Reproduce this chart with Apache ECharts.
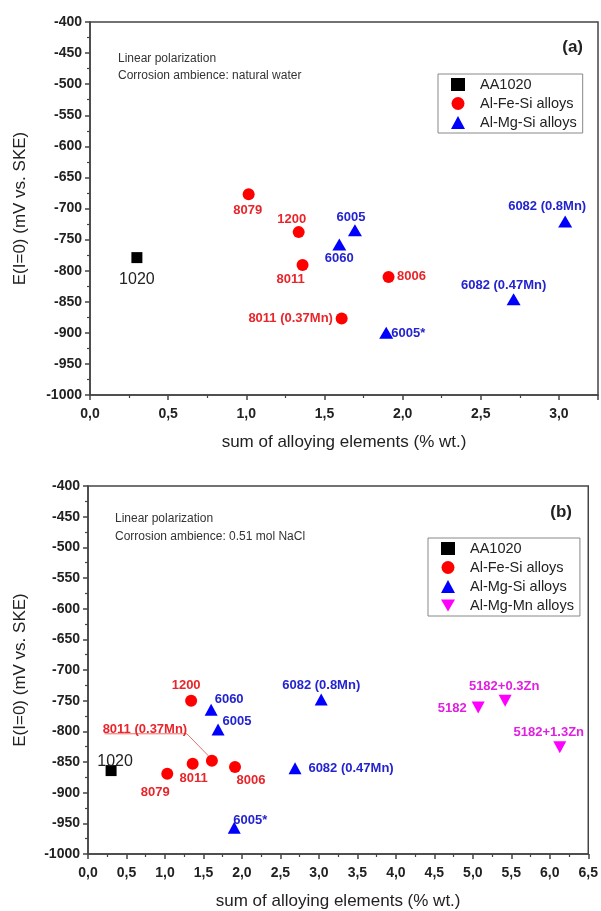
<!DOCTYPE html>
<html><head><meta charset="utf-8">
<script src="https://cdn.jsdelivr.net/npm/echarts@6/dist/echarts.min.js"></script>
<style>html,body{margin:0;padding:0;background:#fff}#c{width:601px;height:911px}</style>
</head><body><div id="c"></div>
<script>
// ---------- DATA: panel (a) natural water ----------
const aAA1020Names = ['1020'];
const aAA1020X = [0.30];
const aAA1020Y = [-779];

const aFeSiNames = ['8079', '1200', '8011', '8006', '8011 (0.37Mn)'];
const aFeSiX = [1.015, 1.335, 1.36, 1.91, 1.61];
const aFeSiY = [-677, -738, -791, -810, -877];

const aMgSiNames = ['6005', '6060', '6082 (0.8Mn)', '6082 (0.47Mn)', '6005*'];
const aMgSiX = [1.695, 1.595, 3.04, 2.71, 1.895];
const aMgSiY = [-735, -758, -721, -846, -900];

// ---------- DATA: panel (b) 0.51 mol NaCl ----------
const bAA1020Names = ['1020'];
const bAA1020X = [0.30];
const bAA1020Y = [-864];

const bFeSiNames = ['8079', '1200', '8011', '8011 (0.37Mn)', '8006'];
const bFeSiX = [1.03, 1.34, 1.36, 1.61, 1.91];
const bFeSiY = [-869, -750, -853, -848, -858];

const bMgSiNames = ['6060', '6005', '6005*', '6082 (0.47Mn)', '6082 (0.8Mn)'];
const bMgSiX = [1.60, 1.69, 1.90, 2.69, 3.03];
const bMgSiY = [-765, -797, -957, -860, -748];

const bMgMnNames = ['5182', '5182+0.3Zn', '5182+1.3Zn'];
const bMgMnX = [5.07, 5.42, 6.13];
const bMgMnY = [-761, -750, -826];

// leader line for "8011 (0.37Mn)" label in panel (b) (underline + pointer)
const bLeaderX = [0.215, 1.285, 1.565];
const bLeaderY = [-804, -804, -840];

const legendA = ['AA1020', 'Al-Fe-Si alloys', 'Al-Mg-Si alloys'];
const legendB = ['AA1020', 'Al-Fe-Si alloys', 'Al-Mg-Si alloys', 'Al-Mg-Mn alloys'];

const yTitle = 'E(I=0) (mV vs. SKE)';
const xTitle = 'sum of alloying elements (% wt.)';

// ---------- LAYOUT (label offsets, px) ----------
const placeA = {
  '1020': [0, 22], '8079': [-1, 16], '1200': [-7, -13], '8011': [-12, 14], '8006': [23, 0],
  '8011 (0.37Mn)': [-51, 0], '6005': [-4, -13], '6060': [0, 14], '6082 (0.8Mn)': [-18, -15],
  '6082 (0.47Mn)': [-10, -14], '6005*': [22, 1]
};
const placeB = {
  '1020': [4, -9], '8079': [-12, 19], '1200': [-5, -15], '8011': [1, 15], '8006': [16, 14],
  '8011 (0.37Mn)': [-67, -31], '6060': [18, -10], '6005': [19, -8], '6005*': [16, -7],
  '6082 (0.47Mn)': [56, 0], '6082 (0.8Mn)': [0, -14], '5182': [-26, 1],
  '5182+0.3Zn': [-1, -14], '5182+1.3Zn': [-11, -15]
};

const FF = '"Liberation Sans", Arial, sans-serif';
const AX = '#444';
const DOWN_TRI = 'path://M0,0L10,0L5,8.66Z';

function sc(name, gi, xs, ys, names, symbol, size, color, lblColor, place, lblStyle) {
  return {
    type: 'scatter', name: name, xAxisIndex: gi, yAxisIndex: gi,
    symbol: symbol, symbolSize: size,
    itemStyle: { color: color, opacity: 1 },
    emphasis: { disabled: true },
    label: Object.assign({
      show: true, position: 'inside', formatter: p => p.name,
      color: lblColor, fontSize: 13, fontWeight: 'bold', fontFamily: FF
    }, lblStyle || {}),
    data: xs.map((x, i) => ({ name: names[i], value: [x, ys[i]], label: { offset: place[names[i]] } })),
    z: 3
  };
}

function xAx(gi, max) {
  return {
    type: 'value', gridIndex: gi, min: 0, max: max, interval: 0.5,
    name: xTitle, nameLocation: 'middle', nameGap: 39,
    nameTextStyle: { fontSize: 17, color: '#222', fontFamily: FF },
    axisLine: { show: true, onZero: false, lineStyle: { color: AX, width: 1.5 } },
    axisTick: { show: true, length: 5, lineStyle: { color: AX, width: 1.5 } },
    minorTick: { show: true, splitNumber: 2, length: 3, lineStyle: { color: AX, width: 1.2 } },
    splitLine: { show: false },
    axisLabel: {
      margin: 12, fontSize: 14, fontWeight: 'bold', color: '#222', fontFamily: FF,
      formatter: v => (Math.abs(v / 0.5 - Math.round(v / 0.5)) < 1e-6) ? v.toFixed(1).replace('.', ',') : ''
    }
  };
}
function yAx(gi, gap) {
  return {
    type: 'value', gridIndex: gi, min: -1000, max: -400, interval: 50,
    name: yTitle, nameLocation: 'middle', nameGap: gap,
    nameTextStyle: { fontSize: 17, color: '#222', fontFamily: FF },
    axisLine: { show: true, onZero: false, lineStyle: { color: AX, width: 1.5 } },
    axisTick: { show: true, length: 5, lineStyle: { color: AX, width: 1.5 } },
    minorTick: { show: true, splitNumber: 2, length: 3, lineStyle: { color: AX, width: 1.2 } },
    splitLine: { show: false },
    axisLabel: { margin: 8, fontSize: 14, fontWeight: 'bold', color: '#222', fontFamily: FF,
      formatter: v => String(Math.round(v)) }
  };
}
function legend(data, left, top) {
  return {
    data: data.map(n => n === 'Al-Mg-Mn alloys' ? { name: n, icon: DOWN_TRI } : n),
    orient: 'vertical', left: left, top: top,
    itemWidth: 14, itemHeight: 13, itemGap: 4,
    padding: [3, 6, 3, 13],
    borderColor: '#888', borderWidth: 1,
    textStyle: { fontSize: 14.5, color: '#222', fontFamily: FF, padding: [0, 0, 0, 10] },
    selectedMode: false
  };
}

const chart = echarts.init(document.getElementById('c'), null, { renderer: 'canvas' });
chart.setOption({
  backgroundColor: '#fff',
  animation: false,
  title: [
    { text: 'Linear polarization\nCorrosion ambience: natural water', left: 113, top: 45,
      textStyle: { fontSize: 12, fontWeight: 'normal', color: '#333', lineHeight: 17, fontFamily: FF } },
    { text: '(a)', right: 13, top: 34, textStyle: { fontSize: 17, fontWeight: 'bold', color: '#222', fontFamily: FF } },
    { text: 'Linear polarization\nCorrosion ambience: 0.51 mol NaCl', left: 110, top: 504,
      textStyle: { fontSize: 12, fontWeight: 'normal', color: '#333', lineHeight: 18.5, fontFamily: FF } },
    { text: '(b)', right: 24, top: 499, textStyle: { fontSize: 17, fontWeight: 'bold', color: '#222', fontFamily: FF } }
  ],
  legend: [legend(legendA, 438, 74), legend(legendB, 428, 538)],
  grid: [
    { left: 90, top: 22, right: 1, height: 373, show: true, borderColor: AX, borderWidth: 1.5, backgroundColor: 'transparent' },
    { left: 88, top: 486, right: 8, height: 369, show: true, borderColor: AX, borderWidth: 1.5, backgroundColor: 'transparent' }
  ],
  xAxis: [xAx(0, 3.25), xAx(1, 6.5)],
  yAxis: [yAx(0, 61), yAx(1, 59)],
  series: [
    sc('AA1020', 0, aAA1020X, aAA1020Y, aAA1020Names, 'rect', 11, '#000', '#222', placeA,
       { fontSize: 16, fontWeight: 'normal' }),
    sc('Al-Fe-Si alloys', 0, aFeSiX, aFeSiY, aFeSiNames, 'circle', 12, '#ff0000', '#e8252a', placeA),
    sc('Al-Mg-Si alloys', 0, aMgSiX, aMgSiY, aMgSiNames, 'triangle', [14, 12], '#0000ff', '#2323d0', placeA),
    {
      type: 'line', name: 'leader', xAxisIndex: 1, yAxisIndex: 1, silent: true,
      symbol: 'none', lineStyle: { color: '#e87070', width: 1 },
      data: bLeaderX.map((x, i) => [x, bLeaderY[i]]), z: 2
    },
    sc('AA1020', 1, bAA1020X, bAA1020Y, bAA1020Names, 'rect', 11, '#000', '#222', placeB,
       { fontSize: 16, fontWeight: 'normal' }),
    sc('Al-Fe-Si alloys', 1, bFeSiX, bFeSiY, bFeSiNames, 'circle', 12, '#ff0000', '#e8252a', placeB),
    sc('Al-Mg-Si alloys', 1, bMgSiX, bMgSiY, bMgSiNames, 'triangle', [13, 12], '#0000ff', '#2323d0', placeB),
    sc('Al-Mg-Mn alloys', 1, bMgMnX, bMgMnY, bMgMnNames, DOWN_TRI, [13, 12], '#ff00ff', '#e020e0', placeB)
  ]
});
</script></body></html>
